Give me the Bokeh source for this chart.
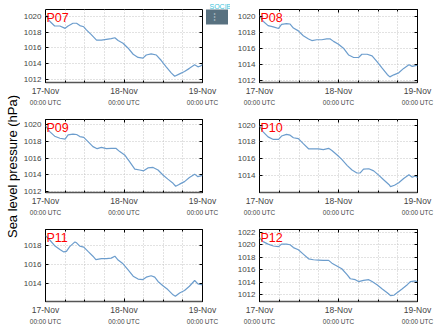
import math
from bokeh.plotting import figure
from bokeh.models import (Range1d, FixedTicker, SingleIntervalTicker, LinearAxis,
                          Label, Grid, Title)
from bokeh.layouts import row, column
from bokeh.embed import file_html
from bokeh.resources import INLINE

# ---------------- data ----------------
stations = ["P07", "P08", "P09", "P10", "P11", "P12"]
tick_hours = [0, 24, 48]
tick_labels = ["17-Nov", "18-Nov", "19-Nov"]
tick_sublabels = ["00:00 UTC", "00:00 UTC", "00:00 UTC"]
grid_hours = [0, 6, 12, 18, 24, 30, 36, 42, 48]
y_label = "Sea level pressure (hPa)"
logo_text = "SOCIB"

hours_p07 = [0, 1.3, 2.8, 4.4, 6.0, 6.9, 8.4, 9.5, 10.5, 11.7, 12.5, 14.0, 15.6, 17.1, 18.6, 20.1,
             21.2, 22.2, 23.7, 25.2, 26.8, 28.3, 29.8, 30.8, 32.3, 33.9, 35.4, 36.9, 38.5, 39.5,
             41.0, 42.5, 44.0, 45.6, 46.6, 47.4, 48]
slp_p07 = [1020.2, 1019.4, 1018.8, 1018.8, 1018.5, 1018.8, 1019.15, 1019.15, 1018.85, 1018.7,
           1018.3, 1017.7, 1017.0, 1017.0, 1017.1, 1017.2, 1017.3, 1016.95, 1016.6, 1016.0,
           1015.2, 1014.8, 1014.7, 1015.1, 1015.25, 1015.1, 1014.4, 1013.6, 1012.8, 1012.4,
           1012.7, 1013.0, 1013.4, 1013.85, 1013.6, 1013.7, 1013.9]

hours_p08 = [0, 1.1, 2.6, 4.2, 5.8, 6.7, 8.2, 9.3, 10.3, 11.8, 13.3, 14.9, 15.9, 17.4, 18.9, 20.4,
             21.5, 22.5, 24.0, 25.5, 27.1, 28.6, 30.1, 31.1, 32.7, 34.2, 35.7, 37.2, 38.8, 39.6,
             40.8, 42.3, 43.8, 45.4, 46.4, 48]
slp_p08 = [1020.1, 1019.4, 1018.85, 1018.7, 1018.5, 1019.0, 1019.1, 1019.05, 1018.55, 1018.2,
           1017.6, 1017.2, 1017.0, 1017.1, 1017.1, 1017.2, 1017.2, 1016.9, 1016.55, 1016.05,
           1015.2, 1014.9, 1014.9, 1015.3, 1015.3, 1015.1, 1014.4, 1013.6, 1012.8, 1012.5,
           1012.75, 1013.0, 1013.55, 1014.0, 1013.8, 1013.95]

hours_p09 = [0, 1.3, 2.8, 4.4, 6.0, 6.9, 8.4, 9.5, 10.5, 11.7, 13.0, 14.5, 15.8, 17.1, 18.6, 20.1,
             21.5, 22.7, 24.2, 25.7, 27.3, 28.8, 30.0, 31.3, 32.9, 34.4, 35.9, 37.4, 39.0, 39.8,
             41.0, 42.5, 44.0, 45.6, 46.6, 48]
slp_p09 = [1019.9, 1019.2, 1018.65, 1018.4, 1018.3, 1018.8, 1018.9, 1018.85, 1018.6, 1018.5,
           1018.0, 1017.4, 1017.15, 1017.3, 1017.15, 1017.2, 1017.2, 1016.8, 1016.4, 1015.6,
           1014.7, 1014.6, 1014.5, 1014.85, 1014.9, 1014.6, 1014.0, 1013.5, 1013.0, 1012.65,
           1012.9, 1013.2, 1013.7, 1014.1, 1013.8, 1013.95]

hours_p10 = [0, 1.1, 2.6, 4.2, 5.8, 6.7, 8.2, 9.3, 10.3, 11.8, 13.3, 14.9, 16.4, 17.9, 19.4, 21.0,
             22.0, 23.5, 25.0, 26.6, 28.1, 29.6, 30.6, 31.6, 33.2, 34.7, 36.2, 37.7, 39.3, 39.8,
             41.0, 42.3, 43.8, 45.4, 46.4, 47.4, 48]
slp_p10 = [1019.9, 1019.2, 1018.6, 1018.3, 1018.3, 1018.7, 1018.9, 1018.8, 1018.5, 1018.4,
           1017.8, 1017.2, 1017.2, 1017.2, 1017.1, 1017.25, 1017.0, 1016.5, 1015.95, 1015.25,
           1014.7, 1014.35, 1014.35, 1014.8, 1014.85, 1014.6, 1014.1, 1013.55, 1013.0, 1012.75,
           1012.9, 1013.2, 1013.7, 1014.15, 1013.85, 1014.0, 1013.8]

hours_p11 = [0, 1.3, 2.8, 4.4, 5.6, 6.4, 7.4, 9.0, 9.5, 10.5, 11.7, 13.0, 14.5, 15.4, 17.1, 18.6,
             20.1, 21.2, 22.2, 23.7, 25.2, 26.8, 28.3, 29.8, 30.8, 32.3, 33.4, 34.4, 35.9, 37.4,
             39.0, 39.7, 41.0, 42.5, 44.0, 45.6, 46.6, 48]
slp_p11 = [1019.05, 1018.6, 1018.0, 1017.6, 1017.35, 1017.4, 1017.9, 1018.4, 1018.3, 1017.95,
           1017.85, 1017.4, 1016.9, 1016.55, 1016.65, 1016.65, 1016.7, 1016.9, 1016.5, 1016.1,
           1015.5, 1014.8, 1014.5, 1014.45, 1014.7, 1014.85, 1014.7, 1014.25, 1013.8, 1013.4,
           1012.85, 1012.7, 1013.05, 1013.3, 1013.75, 1014.35, 1014.0, 1013.9]

hours_p12 = [0, 1.1, 2.6, 4.2, 5.8, 6.7, 8.2, 9.3, 10.3, 11.8, 13.3, 14.9, 16.4, 17.9, 19.4, 21.0,
             22.0, 23.5, 25.0, 26.6, 27.6, 29.1, 30.1, 31.6, 33.2, 34.2, 35.7, 37.2, 38.8, 39.8,
             40.8, 41.8, 43.3, 44.9, 45.9, 47.4, 48]
slp_p12 = [1021.15, 1020.5, 1020.1, 1019.8, 1019.7, 1020.1, 1020.1, 1020.0, 1019.55, 1019.2,
           1018.5, 1017.75, 1017.6, 1017.55, 1017.5, 1017.5, 1017.05, 1016.6, 1016.15, 1015.2,
           1014.55, 1014.4, 1014.1, 1014.3, 1014.4, 1014.1, 1013.6, 1012.95, 1012.3, 1011.85,
           1011.9, 1012.3, 1012.9, 1013.6, 1014.1, 1014.2, 1014.05]

all_hours = [hours_p07, hours_p08, hours_p09, hours_p10, hours_p11, hours_p12]
all_slp = [slp_p07, slp_p08, slp_p09, slp_p10, slp_p11, slp_p12]
y_starts = [1011.6, 1011.8, 1011.9, 1012.05, 1012.15, 1010.9]
y_ends = [1020.9, 1020.85, 1020.65, 1020.65, 1019.7, 1022.45]

# ---------------- style ----------------
FONT = "Liberation Sans"
LINE_COLOR = "#6c9dcd"
GRID_COLOR = "#c4c4c4"
frame_heights = [73, 73, 72]
top_borders = [8, 8, 8]
bottom_borders = [29, 29, 27]
FRAME_W_LEFT = 157
FRAME_W_RIGHT = 158


def make_panel(i, mirror_top=True):
    left_col = (i % 2 == 0)
    r = i // 2
    p = figure(output_backend="svg", toolbar_location=None,
               frame_width=FRAME_W_LEFT if left_col else FRAME_W_RIGHT,
               frame_height=frame_heights[r],
               min_border_left=23 if left_col else 29,
               min_border_right=28 if left_col else 19,
               min_border_top=top_borders[r], min_border_bottom=bottom_borders[r],
               x_range=Range1d(tick_hours[0], tick_hours[-1]),
               y_range=Range1d(y_starts[i], y_ends[i]),
               x_axis_type=None, y_axis_type=None)
    p.outline_line_color = "black"
    p.outline_line_width = 1
    p.background_fill_color = "white"
    p.border_fill_color = "white"

    # grids
    p.add_layout(Grid(dimension=0, ticker=FixedTicker(ticks=grid_hours),
                      grid_line_color=GRID_COLOR, grid_line_dash="1 2", grid_line_width=1))
    p.add_layout(Grid(dimension=1, ticker=SingleIntervalTicker(interval=2),
                      grid_line_color=GRID_COLOR, grid_line_dash="1 2", grid_line_width=1))

    # y axis (left) and mirrored (right)
    yax = LinearAxis(ticker=SingleIntervalTicker(interval=2, num_minor_ticks=0),
                     major_label_text_font=FONT, major_label_text_font_size="8px",
                     major_label_standoff=4, major_tick_in=3, major_tick_out=0,
                     minor_tick_line_color=None, axis_line_color=None,
                     major_tick_line_color="black")
    p.add_layout(yax, "left")
    yax2 = LinearAxis(ticker=SingleIntervalTicker(interval=2, num_minor_ticks=0),
                      major_label_text_font_size="0px", major_label_text_color=None,
                      major_label_standoff=0, major_tick_in=3, major_tick_out=0,
                      minor_tick_line_color=None, axis_line_color=None,
                      major_tick_line_color="black")
    p.add_layout(yax2, "right")

    # x axes
    xt = FixedTicker(ticks=tick_hours, minor_ticks=grid_hours)
    xax = LinearAxis(ticker=xt,
                     major_label_overrides={h: t for h, t in zip(tick_hours, tick_labels)},
                     major_label_text_font=FONT, major_label_text_font_size="8.5px",
                     major_label_standoff=3, major_tick_in=3, major_tick_out=0,
                     minor_tick_in=2, minor_tick_out=0, axis_line_color="#555555",
                     axis_line_width=1.5,
                     major_tick_line_color="black", minor_tick_line_color="black")
    p.add_layout(xax, "below")
    xax_sub = LinearAxis(ticker=FixedTicker(ticks=tick_hours, minor_ticks=[]),
                         major_label_overrides={h: t for h, t in zip(tick_hours, tick_sublabels)},
                         major_label_text_font=FONT, major_label_text_font_size="6.5px",
                         major_label_standoff=0, major_tick_in=0, major_tick_out=0,
                         major_tick_line_color=None, minor_tick_line_color=None,
                         axis_line_color=None)
    p.add_layout(xax_sub, "below")
    if mirror_top:
        xax_top = LinearAxis(ticker=FixedTicker(ticks=tick_hours, minor_ticks=grid_hours),
                             major_label_text_font_size="0px", major_label_text_color=None,
                             major_label_standoff=0, major_tick_in=3, major_tick_out=0,
                             minor_tick_in=2, minor_tick_out=0, axis_line_color=None,
                             major_tick_line_color="black", minor_tick_line_color="black")
        p.add_layout(xax_top, "above")

    p.line(all_hours[i], all_slp[i], line_color=LINE_COLOR, line_width=1.2)

    p.add_layout(Label(x=tick_hours[0], y=y_ends[i], x_offset=1, y_offset=-1,
                       text=stations[i], text_color="red", text_font=FONT,
                       text_font_size="12.5px", text_baseline="top", text_align="left"))
    return p


panels = [make_panel(i, mirror_top=(i != 0)) for i in range(6)]

# logo (decoration) in the first panel's borders, via titles
p0 = panels[0]
p0.add_layout(Title(text=logo_text, align="left", offset=FRAME_W_LEFT + 7, standoff=0,
                    text_color="#3cc4dc", text_font=FONT, text_font_size="7px",
                    text_font_style="normal", vertical_align="bottom"), "above")
p0.add_layout(Title(text="\u2026", align="left", offset=0, standoff=7,
                    text_color="#e8eef2", text_font="DejaVu Sans", text_font_size="9px",
                    text_font_style="normal", background_fill_color="#587180",
                    padding=(3, 6)), "right")

# y label column
lf = figure(output_backend="svg", toolbar_location=None, width=20, height=327,
            x_range=Range1d(0, 20), y_range=Range1d(0, 327),
            x_axis_type=None, y_axis_type=None, min_border=0,
            outline_line_color=None)
lf.add_layout(Label(x=12, y=161, text=y_label, angle=math.pi / 2, text_align="center",
                    text_baseline="middle", text_font=FONT, text_font_size="13px",
                    text_color="black"))

grid = column(row(panels[0], panels[1]), row(panels[2], panels[3]), row(panels[4], panels[5]))
layout = row(lf, grid)

open("out.html", "w").write(file_html(layout, INLINE))
